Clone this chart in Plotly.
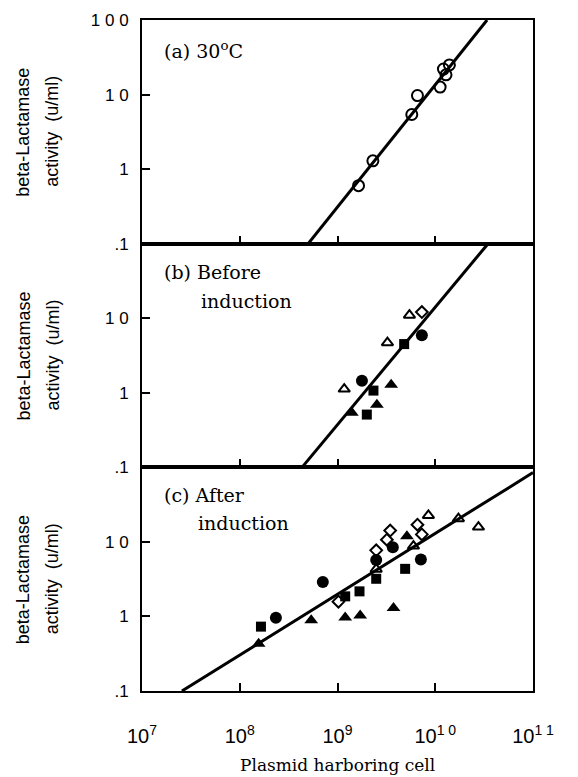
import plotly.graph_objects as go
from plotly.subplots import make_subplots

# ---------------- data ----------------
# Panel (a) 30 C : open circles
a_circ_x = [1.641e9, 2.301e9, 5.754e9, 6.577e9, 1.122e10, 1.213e10, 1.288e10, 1.396e10]
a_circ_y = [0.60, 1.29, 5.4, 9.7, 12.6, 22.0, 18.4, 25.0]
a_fit_x = [5.01e8, 3.39e10]
a_fit_y = [0.1, 100]

# Panel (b) before induction
b_otri_x = [5.445e9, 3.243e9, 1.172e9]
b_otri_y = [11.0, 4.7, 1.12]
b_odia_x = [7.295e9]
b_odia_y = [12.1]
b_fcir_x = [7.295e9, 1.778e9]
b_fcir_y = [5.9, 1.45]
b_fsq_x = [4.808e9, 2.333e9, 1.995e9]
b_fsq_y = [4.5, 1.07, 0.51]
b_ftri_x = [3.540e9, 2.529e9, 1.403e9]
b_ftri_y = [1.28, 0.69, 0.54]
b_fit_x = [4.33e8, 3.47e10]
b_fit_y = [0.1, 100]

# Panel (c) after induction
c_fsq_x = [1.648e8, 1.199e9, 1.679e9, 2.489e9, 4.920e9]
c_fsq_y = [0.73, 1.86, 2.17, 3.2, 4.35]
c_fcir_x = [2.344e8, 7.079e8, 2.489e9, 3.681e9, 7.129e9]
c_fcir_y = [0.96, 2.9, 5.7, 8.5, 5.8]
c_ftri_x = [1.560e8, 5.383e8, 1.199e9, 1.706e9, 3.741e9, 5.129e9]
c_ftri_y = [0.43, 0.89, 0.97, 1.03, 1.3, 11.9]
c_odia_x = [1.023e9, 2.489e9, 3.459e9, 3.199e9, 6.577e9, 7.295e9]
c_odia_y = [1.58, 7.7, 14.2, 10.7, 17.0, 12.6]
c_otri_x = [2.489e9, 5.984e9, 8.511e9, 1.726e10, 2.767e10]
c_otri_y = [4.3, 8.8, 22.6, 20.5, 15.8]
c_fit_x = [2.56e7, 1.0e11]
c_fit_y = [0.1, 85]

x_tickvals = [1e7, 1e8, 1e9, 1e10, 1e11]
x_ticktext = ["10<sup>7</sup>", "10<sup>8</sup>", "10<sup>9</sup>", "10<sup>1 0</sup>", "10<sup>1 1</sup>"]
y_tickvals = [0.1, 1, 10, 100]
y_ticktext_top = [".1", "1", "1 0", "1 0 0"]
y_ticktext_low = [".1", "1", "1 0", ""]

panel_lines = [["(a) 30<sup>o</sup>C"], ["(b) Before", "induction"], ["(c) After", "induction"]]
ytitle_lines = ["beta-Lactamase", "activity  (u/ml)"]
xtitle = "Plasmid harboring cell"

# ---------------- figure ----------------
fig = make_subplots(rows=3, cols=1, shared_xaxes=True, vertical_spacing=0)

def pts(x, y, sym, row, size=10, lw=2):
    fig.add_trace(go.Scatter(x=x, y=y, mode="markers",
                             marker=dict(symbol=sym, size=size, color="black",
                                         line=dict(color="black", width=lw)),
                             showlegend=False, cliponaxis=False), row=row, col=1)

def fit(x, y, row):
    fig.add_trace(go.Scatter(x=x, y=y, mode="lines",
                             line=dict(color="black", width=3),
                             showlegend=False), row=row, col=1)

fit(a_fit_x, a_fit_y, 1)
pts(a_circ_x, a_circ_y, "circle-open", 1, size=11)

fit(b_fit_x, b_fit_y, 2)
pts(b_otri_x, b_otri_y, "triangle-up-open", 2, size=10)
pts(b_odia_x, b_odia_y, "diamond-open", 2, size=9)
pts(b_fcir_x, b_fcir_y, "circle", 2, size=12, lw=0)
pts(b_fsq_x, b_fsq_y, "square", 2, size=10, lw=0)
pts(b_ftri_x, b_ftri_y, "triangle-up", 2, size=12, lw=0)

fit(c_fit_x, c_fit_y, 3)
pts(c_fsq_x, c_fsq_y, "square", 3, size=10, lw=0)
pts(c_fcir_x, c_fcir_y, "circle", 3, size=12, lw=0)
pts(c_ftri_x, c_ftri_y, "triangle-up", 3, size=12, lw=0)
pts(c_odia_x, c_odia_y, "diamond-open", 3, size=9)
pts(c_otri_x, c_otri_y, "triangle-up-open", 3, size=10)

tickfont = dict(family="Liberation Sans, Arial", size=17, color="black")
for r in (1, 2, 3):
    fig.update_xaxes(type="log", range=[7, 11], tickvals=x_tickvals, ticktext=x_ticktext,
                     ticks="inside", ticklen=8, tickwidth=2, tickcolor="black",
                     showline=True, linecolor="black", linewidth=2, mirror=True,
                     showgrid=False, zeroline=False, showticklabels=(r == 3),
                     tickfont=dict(family="Liberation Sans, Arial", size=20, color="black"),
                     row=r, col=1)
    fig.update_yaxes(type="log", range=[-1, 2], tickvals=y_tickvals,
                     ticktext=(y_ticktext_top if r == 1 else y_ticktext_low),
                     ticks="inside", ticklen=8, tickwidth=2, tickcolor="black",
                     showline=True, linecolor="black", linewidth=2, mirror=True,
                     showgrid=False, zeroline=False, tickfont=tickfont,
                     ticklabelstandoff=8, row=r, col=1)
fig.update_xaxes(ticklabelstandoff=26, row=3, col=1)

# Panel labels and y titles
serif = dict(family="DejaVu Serif", size=19, color="black")
axes_y = ["y domain", "y2 domain", "y3 domain"]
axes_x = ["x domain", "x2 domain", "x3 domain"]
offsets = [[(20, 0.865)], [(20, 0.875), (57, 0.745)], [(20, 0.875), (54, 0.75)]]
for i in range(3):
    for line, (dx, yy) in zip(panel_lines[i], offsets[i]):
        fig.add_annotation(text=line, xref=axes_x[i], yref=axes_y[i], x=dx / 391.0, y=yy,
                           xanchor="left", yanchor="middle", showarrow=False, font=serif)
    for line, px in zip(ytitle_lines, (23, 52)):
        fig.add_annotation(text=line, xref="paper", yref=axes_y[i], x=(px - 142) / 391.0, y=0.5,
                           xanchor="center", yanchor="middle", textangle=-90, showarrow=False,
                           font=dict(family="Liberation Sans, Arial", size=18, color="black"))

fig.add_annotation(text=xtitle, xref="paper", yref="paper", x=0.5, y=-0.111,
                   xanchor="center", yanchor="middle", showarrow=False,
                   font=dict(family="DejaVu Serif", size=17, color="black"))

fig.update_layout(width=578, height=777, margin=dict(l=142, r=45, t=20, b=86),
                  paper_bgcolor="white", plot_bgcolor="white", showlegend=False)

fig.write_html("out.html")
